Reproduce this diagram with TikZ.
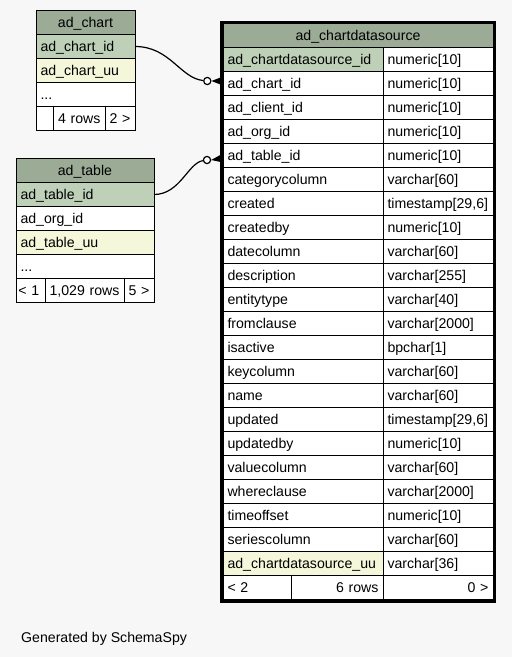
\documentclass[tikz,border=0pt]{standalone}
\usepackage{fontspec}
\setmainfont{Liberation Sans}
\usepackage{xcolor}
\usepackage{tikz}
\usetikzlibrary{
  positioning,
  calc
}
\definecolor{hdrc}{HTML}{9BAB96}
\definecolor{pkc}{HTML}{BED1B8}
\definecolor{uuc}{HTML}{F4F7DA}
\definecolor{bgc}{HTML}{F7F7F7}

\begin{document}
\begin{tikzpicture}[
    x=0.75pt, y=-0.75pt,
    cell/.style={draw, fill=white, line width=0.75pt, inner xsep=3.375pt, inner ysep=0pt,
        outer sep=0pt, minimum height=18pt, text height=9.75pt, text depth=2.25pt,
        anchor=north west, align=left, text width=#1, font=\fontsize{10.6}{12.7}\selectfont},
    head/.style={cell=#1, fill=hdrc, align=center},
    rcell/.style={cell=#1, align=right},
    link/.style={line width=0.9pt},
    knob/.style={circle, draw, line width=0.9pt, fill=white, inner sep=0pt, minimum size=5.4pt}
]
    \useasboundingbox (0,0) rectangle (512,657);
    \fill[bgc] (0,0) rectangle (512,657);

    % ad_chart
    \node[head=67.5pt] (ch) at (36,10.5) {ad\_chart};
    \node[cell=67.5pt, fill=pkc, below=0pt of ch] (c1) {ad\_chart\_id};
    \node[cell=67.5pt, fill=uuc, below=0pt of c1] (c2) {ad\_chart\_uu};
    \node[cell=67.5pt, below=0pt of c2] (c3) {...};
    \node[cell=6pt, below=0pt of c3.south west, anchor=north west] (cf1) {};
    \node[rcell=32.25pt, right=0pt of cf1] (cf2) {4 rows};
    \node[cell=15.75pt, right=0pt of cf2] (cf3) {2 >};

    % ad_table
    \node[head=96.75pt] (th) at (16,158.5) {ad\_table};
    \node[cell=96.75pt, fill=pkc, below=0pt of th] (t1) {ad\_table\_id};
    \node[cell=96.75pt, below=0pt of t1] (t2) {ad\_org\_id};
    \node[cell=96.75pt, fill=uuc, below=0pt of t2] (t3) {ad\_table\_uu};
    \node[cell=96.75pt, below=0pt of t3] (t4) {...};
    \node[cell=18pt, inner xsep=1.875pt, below=0pt of t4.south west, anchor=north west] (tf1) {< 1};
    \node[rcell=52.5pt, right=0pt of tf1] (tf2) {1,029 rows};
    \node[cell=15.75pt, right=0pt of tf2] (tf3) {5 >};

    % ad_chartdatasource
    \node[head=195.75pt] (mh) at (223,23.5) {ad\_chartdatasource};
    \foreach \col/\typ/\clr [count=\i] in {
        ad\_chartdatasource\_id/numeric[10]/pkc,
        ad\_chart\_id/numeric[10]/white,
        ad\_client\_id/numeric[10]/white,
        ad\_org\_id/numeric[10]/white,
        ad\_table\_id/numeric[10]/white,
        categorycolumn/varchar[60]/white,
        created/{timestamp[29,6]}/white,
        createdby/numeric[10]/white,
        datecolumn/varchar[60]/white,
        description/varchar[255]/white,
        entitytype/varchar[40]/white,
        fromclause/varchar[2000]/white,
        isactive/bpchar[1]/white,
        keycolumn/varchar[60]/white,
        name/varchar[60]/white,
        updated/{timestamp[29,6]}/white,
        updatedby/numeric[10]/white,
        valuecolumn/varchar[60]/white,
        whereclause/varchar[2000]/white,
        timeoffset/numeric[10]/white,
        seriescolumn/varchar[60]/white,
        ad\_chartdatasource\_uu/varchar[36]/uuc}{
        \node[cell=113.25pt, fill=\clr] (r\i) at (223,{47.5+24*(\i-1)}) {\col};
        \node[cell=75.75pt, right=0pt of r\i] (y\i) {\typ};
    }
    \node[cell=44.25pt] (mf1) at (223,575.5) {< 2};
    \node[rcell=62.25pt, right=0pt of mf1] (mf2) {6 rows};
    \node[rcell=75.75pt, right=0pt of mf2] (mf3) {0 >};
    \draw[line width=2.4pt] ($(mh.north west)+(-1.7,-0.7)$) rectangle ($(mf3.south east)+(1.7,1.5)$);

    % 连线
    \node[knob] (o1) at (207.3,81) {};
    \node[knob] (o2) at (207,160) {};
    \draw[link] (c1.east) .. controls (170,46.5) and (180,78) .. (o1);
    \draw[link] (t1.east) .. controls (180,194.5) and (188,163) .. (o2);
    \fill (o1.east) -- ($(o1.east -| r2.west)+(0,-4.5)$) -- ($(o1.east -| r2.west)+(-2.5,0)$)
        -- ($(o1.east -| r2.west)+(0,4.5)$) -- cycle;
    \fill (o2.east) -- ($(o2.east -| r5.west)+(0,-6.5)$) -- ($(o2.east -| r5.west)+(-2.5,-2)$)
        -- ($(o2.east -| r5.west)+(0,2.5)$) -- cycle;

    \node[anchor=base west, font=\fontsize{10.6}{12.7}\selectfont] (gen) at (16.5,642.5) {Generated by SchemaSpy};
\end{tikzpicture}
\end{document}
